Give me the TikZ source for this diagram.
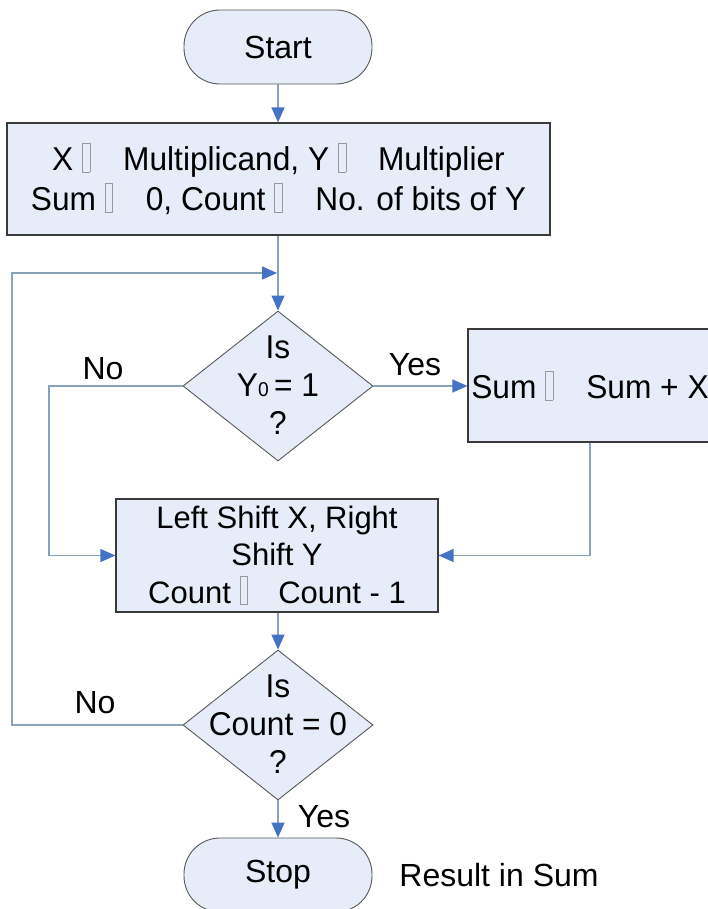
\documentclass[tikz,border=0pt]{standalone}
\usepackage{fontspec}
\setmainfont{Liberation Sans}
\newfontfamily\narrowA[FakeStretch=0.96]{Liberation Sans}
\usetikzlibrary{shapes.geometric,arrows.meta}
\definecolor{boxfill}{HTML}{E7EDF8}
\definecolor{boxline}{HTML}{3A3A3A}
\definecolor{conn}{HTML}{8AA2BA}
\definecolor{arrblue}{HTML}{4472C4}
\newcommand\tofu{{\color{black!40}\setlength{\fboxrule}{0.6pt}\setlength{\fboxsep}{0pt}\raisebox{-1pt}{\fbox{\rule{0pt}{28pt}\hspace{7pt}}}}}
\begin{document}
\begin{tikzpicture}[x=1pt,y=-1pt,
  box/.style={draw=boxline,line width=1.2pt,fill=boxfill,rectangle,inner sep=0pt,align=center,font=\narrowA\fontsize{33}{40}\selectfont},
  term/.style={draw=boxline!85,line width=0.9pt,fill=boxfill,rectangle,rounded corners=36pt,minimum width=188pt,minimum height=74pt,inner sep=0pt,font=\fontsize{32}{40}\selectfont},
  dia/.style={draw=boxline!85,line width=0.9pt,fill=boxfill,diamond,minimum width=190pt,minimum height=150pt,inner sep=0pt},
  dtext/.style={align=center,inner sep=0pt,font=\narrowA\fontsize{33}{38}\selectfont},
  lbl/.style={inner sep=0pt,font=\fontsize{32}{38}\selectfont},
  conline/.style={draw=conn,line width=1.3pt},
  arr/.style={conline,-{Triangle[length=15pt,width=13pt,color=arrblue]}}
]
\useasboundingbox (0,0) rectangle (707,909);

% nodes
\node[term] (start) at (278,47) {Start};
\node[box,minimum width=543pt,minimum height=112pt] (init) at (278.5,179)
  {X \tofu\hspace{24pt} Multiplicand, Y \tofu\hspace{23pt} Multiplier\\
   Sum \tofu\hspace{24pt} 0, Count \tofu\hspace{24pt} No. of bits of Y};
\node[dia] (d1) at (278,386) {};
\node[dtext] (d1t) at (278,385) {Is\\Y{\fontsize{20}{20}\selectfont 0}\,= 1\\?};
\node[box,minimum width=244pt,minimum height=113pt] (sum) at (590,385.5)
  {Sum \tofu\hspace{24pt} Sum + X};
\node[box,minimum width=322pt,minimum height=113pt,font=\fontsize{31}{37.5}\selectfont] (proc) at (277,555.5)
  {Left Shift X, Right\\Shift Y\\Count \tofu\hspace{22pt} Count - 1};
\node[dia] (d2) at (278,725) {};
\node[dtext] (d2t) at (278,724) {Is\\Count = 0\\?};
\node[term] (stop) at (278,875) {Stop};
\node[lbl] (res) at (499,875) {Result in Sum};

% labels
\node[lbl] (no1) at (103,369) {No};
\node[lbl] (yes1) at (415,365) {Yes};
\node[lbl] (no2) at (95,703) {No};
\node[lbl] (yes2) at (324,817) {Yes};

% coordinates
\coordinate (lb) at (12,725);
\coordinate (lt) at (12,273);
\coordinate (jt) at (277,273);
\coordinate (nl) at (49,386);
\coordinate (nb) at (49,555.5);
\coordinate (sr) at (590,555.5);

% connectors
\draw[arr] (start.south) -- (init.north -| start.south);
\draw[arr] (init.south -| d1.north) -- (d1.north);
\draw[arr] (d2.west) -- (lb) -- (lt) -- (jt);
\draw[arr] (d1.west) -- (nl) -- (nb) -- (proc.west);
\draw[arr] (d1.east) -- (sum.west |- d1.east);
\draw[arr] (sum.south) -- (sr) -- (proc.east);
\draw[arr] (proc.south -| d2.north) -- (d2.north);
\draw[arr] (d2.south) -- (stop.north);
\end{tikzpicture}
\end{document}
